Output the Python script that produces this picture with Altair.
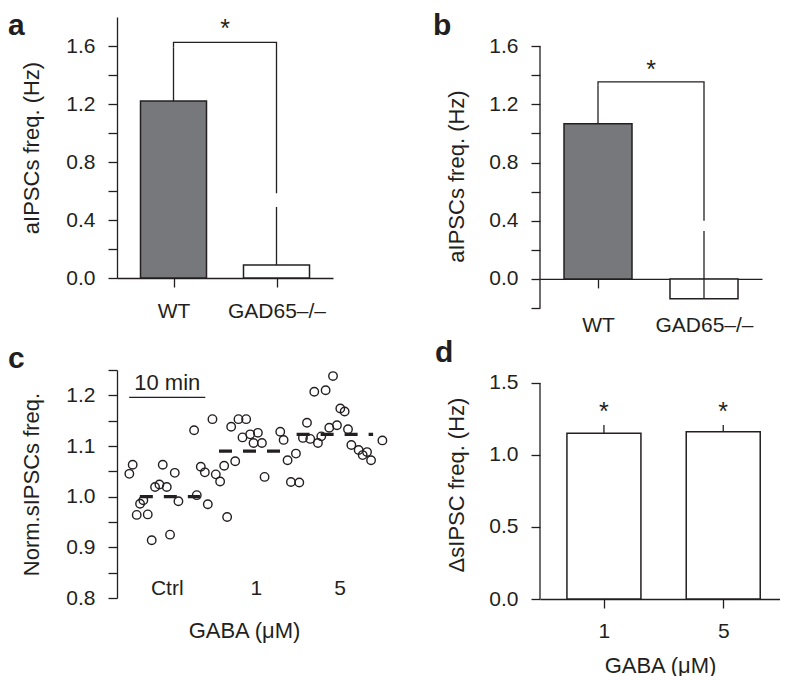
import json
import altair as alt
import pandas as pd

FONT = "Liberation Sans"
INK = "#231f20"
GRAY = "#77787b"

# ---------------- data ----------------
# panel a
a_groups = ["WT", "GAD65–/–"]
a_means = [1.22, 0.09]
a_err_top = [1.59, 0.49]
a_fills = [GRAY, "#ffffff"]
a_bracket_y = 1.625
a_bracket_legs = [1.59, 0.584]
a_star_y = 1.66
a_yticks = [0.0, 0.2, 0.4, 0.6, 0.8, 1.0, 1.2, 1.4, 1.6]
a_label_step = 0.4

# panel b
b_groups = ["WT", "GAD65–/–"]
b_means = [1.066, -0.137]
b_err_top = [1.33, 0.33]
b_fills = [GRAY, "#ffffff"]
b_bracket_y = 1.354
b_bracket_legs = [1.33, 0.40]
b_star_y = 1.382
b_yticks = [-0.2, 0.0, 0.2, 0.4, 0.6, 0.8, 1.0, 1.2, 1.4, 1.6]
b_label_step = 0.4

# panel c
c_minutes = [1.62, 2.06, 2.59, 3.03, 3.46, 4.04, 4.56, 5.00, 5.57, 6.01,
             6.54, 6.97, 7.59, 8.07, 10.13, 10.48, 11.01, 11.54, 11.93, 12.54,
             12.98, 13.55, 14.08, 14.47, 15.00, 15.53, 15.96, 16.49, 16.97, 17.50,
             17.94, 18.51, 19.04, 19.39, 21.45, 21.89, 22.41, 22.85, 23.51, 23.95,
             24.43, 24.96, 25.39, 25.92, 26.40, 26.84, 27.41, 27.89, 28.38, 28.90,
             29.34, 29.91, 30.35, 30.79, 31.75, 32.28, 32.85, 33.38, 34.87]
c_freq = [1.045, 1.063, 0.964, 0.986, 0.993, 0.965, 0.914, 1.019, 1.024, 1.063,
          1.019, 0.925, 1.047, 0.991, 1.131, 1.003, 1.059, 1.048, 0.985, 1.153,
          1.044, 1.030, 1.061, 0.960, 1.138, 1.070, 1.153, 1.117, 1.153, 1.123,
          1.106, 1.126, 1.106, 1.039, 1.128, 1.112, 1.072, 1.029, 1.085, 1.028,
          1.116, 1.146, 1.114, 1.207, 1.106, 1.119, 1.210, 1.136, 1.238, 1.141,
          1.174, 1.168, 1.133, 1.102, 1.092, 1.082, 1.088, 1.072, 1.111]
c_conditions = ["Ctrl", "1", "5"]
c_cond_label_min = [6.6, 18.3, 29.3]
c_cond_label_y = 0.806
c_mean_start = [3.0, 13.4, 23.6]
c_mean_end = [10.9, 21.45, 33.65]
c_mean_value = [1.0, 1.09, 1.123]
c_scalebar = [1.6, 11.6]
c_scalebar_y = 1.196
c_scalebar_text_y = 1.21
c_scalebar_text = "10 min"
c_yticks = [0.8, 0.85, 0.9, 0.95, 1.0, 1.05, 1.1, 1.15, 1.2, 1.25]
c_label_step = 0.1

# panel d
d_groups = ["1", "5"]
d_means = [1.151, 1.162]
d_err_top = [1.208, 1.208]
d_star_y = 1.243
d_yticks = [0.0, 0.5, 1.0, 1.5]

# ---------------- styling helpers ----------------
AX = dict(labelFont=FONT, titleFont=FONT, labelFontSize=21, titleFontSize=22,
          labelColor=INK, titleColor=INK, domainColor=INK, tickColor=INK,
          domainWidth=1.3, tickWidth=1.3, titleFontWeight="normal", grid=False)


def label_expr(names):
    return json.dumps(names, ensure_ascii=False) + "[datum.value]"


def every(step):
    # show a label only on multiples of `step`
    return (f"abs(datum.value / {step} - round(datum.value / {step})) < 0.001 "
            f"? format(datum.value, '.1f') : ''")


def letter(ch, px, py):
    return alt.Chart(pd.DataFrame({"t": [ch]})).mark_text(
        font=FONT, fontSize=30, fontWeight="bold", color=INK,
        align="left", baseline="alphabetic"
    ).encode(text="t:N", x=alt.value(px), y=alt.value(py))


def star_layer(xs, ys, xenc, yenc):
    return alt.Chart(pd.DataFrame({"x": xs, "y": ys, "s": ["*"] * len(xs)})).mark_text(
        font=FONT, fontSize=25, color=INK, baseline="alphabetic"
    ).encode(x=xenc("x:Q"), y=yenc("y:Q"), text="s:N")


# ---------------- panel a ----------------
a_pos = list(range(len(a_groups)))
a_df = pd.DataFrame({"x": a_pos, "mean": a_means, "top": a_err_top,
                     "fill": a_fills, "zero": [0.0] * len(a_pos)})
a_xs = alt.Scale(domain=[-0.5, 1.5], nice=False, zero=False)
a_xa = alt.Axis(values=a_pos, labelExpr=label_expr(a_groups), title=None,
                tickSize=9, labelPadding=13, **AX)
a_ys = alt.Scale(domain=[0, 1.8], nice=False, zero=False)
a_ya = alt.Axis(values=a_yticks, labelExpr=every(a_label_step),
                title="aIPSCs freq. (Hz)", tickSize=9, labelPadding=13,
                titlePadding=22, **AX)
ax_x = lambda f: alt.X(f, scale=a_xs, axis=a_xa)
ax_y = lambda f: alt.Y(f, scale=a_ys, axis=a_ya)

a_bars = alt.Chart(a_df).mark_bar(orient="vertical", width=66, stroke=INK, strokeWidth=1.5).encode(
    x=ax_x("x:Q"), y=ax_y("mean:Q"), y2="zero:Q", fill=alt.Fill("fill:N", scale=None))
a_err = alt.Chart(a_df).mark_rule(color=INK, strokeWidth=1.3).encode(
    x=ax_x("x:Q"), y=ax_y("mean:Q"), y2="top:Q")
a_br_df = pd.DataFrame({"x": [a_pos[0], a_pos[0], a_pos[1], a_pos[1]],
                        "y": [a_bracket_legs[0], a_bracket_y, a_bracket_y, a_bracket_legs[1]],
                        "o": [0, 1, 2, 3]})
a_br = alt.Chart(a_br_df).mark_line(color=INK, strokeWidth=1.3).encode(
    x=ax_x("x:Q"), y=ax_y("y:Q"), order="o:Q")
a_star = star_layer([sum(a_pos) / 2], [a_star_y], ax_x, ax_y)
panel_a = alt.layer(a_bars, a_err, a_br, a_star, letter("a", -109, 18)).properties(
    width=216, height=261)

# ---------------- panel b ----------------
b_pos = list(range(len(b_groups)))
b_df = pd.DataFrame({"x": b_pos, "mean": b_means, "top": b_err_top,
                     "fill": b_fills, "zero": [0.0] * len(b_pos)})
B_H = 291
b_dom = [-0.2, 1.8]
b_zero_offset = -B_H * (0 - b_dom[0]) / (b_dom[1] - b_dom[0])
b_xs = alt.Scale(domain=[-0.5, 1.5], nice=False, zero=False)
b_xa = alt.Axis(values=b_pos, labelExpr=label_expr(b_groups), title=None,
                tickSize=9, labelPadding=27, offset=b_zero_offset, **AX)
b_ys = alt.Scale(domain=b_dom, nice=False, zero=False)
b_ya = alt.Axis(values=b_yticks, labelExpr=every(b_label_step),
                title="aIPSCs freq. (Hz)", tickSize=9, labelPadding=13, domain=False,
                titlePadding=20, titleY=159, **AX)
bx_x = lambda f: alt.X(f, scale=b_xs, axis=b_xa)
bx_y = lambda f: alt.Y(f, scale=b_ys, axis=b_ya)

b_bars = alt.Chart(b_df).mark_bar(orient="vertical", width=68, stroke=INK, strokeWidth=1.5).encode(
    x=bx_x("x:Q"), y=bx_y("mean:Q"), y2="zero:Q", fill=alt.Fill("fill:N", scale=None))
b_err = alt.Chart(b_df).mark_rule(color=INK, strokeWidth=1.3).encode(
    x=bx_x("x:Q"), y=bx_y("mean:Q"), y2="top:Q")
b_br_df = pd.DataFrame({"x": [b_pos[0], b_pos[0], b_pos[1], b_pos[1]],
                        "y": [b_bracket_legs[0], b_bracket_y, b_bracket_y, b_bracket_legs[1]],
                        "o": [0, 1, 2, 3]})
b_br = alt.Chart(b_br_df).mark_line(color=INK, strokeWidth=1.3).encode(
    x=bx_x("x:Q"), y=bx_y("y:Q"), order="o:Q")
b_axis_line = alt.Chart(pd.DataFrame({"y0": [min(b_yticks)], "y1": [max(b_yticks)]})).mark_rule(
    color=INK, strokeWidth=1.3).encode(x=alt.value(0), y=bx_y("y0:Q"), y2="y1:Q")
b_star = star_layer([sum(b_pos) / 2], [b_star_y], bx_x, bx_y)
panel_b = alt.layer(b_bars, b_err, b_br, b_axis_line, b_star, letter("b", -107, 18)).properties(
    width=222, height=B_H)

# ---------------- panel c ----------------
c_df = pd.DataFrame({"t": c_minutes, "f": c_freq})
c_xs = alt.Scale(domain=[0, 36], nice=False, zero=False)
c_xa = alt.Axis(title="GABA (μM)", domain=False, ticks=False, labels=False,
                titlePadding=22, titleX=127, **AX)
c_ys = alt.Scale(domain=[0.8, 1.25], nice=False, zero=False)
c_ya = alt.Axis(values=c_yticks, labelExpr=every(c_label_step),
                title="Norm.sIPSCs freq.", tickSize=9, labelPadding=13,
                titlePadding=22, **AX)
cx_x = lambda f: alt.X(f, scale=c_xs, axis=c_xa)
cx_y = lambda f: alt.Y(f, scale=c_ys, axis=c_ya)

c_pts = alt.Chart(c_df).mark_point(shape="circle", filled=False, color=INK,
                                    strokeWidth=1.4, size=72, opacity=1).encode(
    x=cx_x("t:Q"), y=cx_y("f:Q"))
c_mean_df = pd.DataFrame({"s": c_mean_start, "e": c_mean_end, "v": c_mean_value})
c_means = alt.Chart(c_mean_df).mark_rule(color=INK, strokeWidth=3.2, strokeDash=[13, 11]).encode(
    x=cx_x("s:Q"), x2="e:Q", y=cx_y("v:Q"))
c_lab_df = pd.DataFrame({"x": c_cond_label_min, "y": [c_cond_label_y] * 3, "t": c_conditions})
c_labs = alt.Chart(c_lab_df).mark_text(font=FONT, fontSize=21, color=INK, baseline="alphabetic").encode(
    x=cx_x("x:Q"), y=cx_y("y:Q"), text="t:N")
c_sb_df = pd.DataFrame({"s": [c_scalebar[0]], "e": [c_scalebar[1]], "y": [c_scalebar_y],
                        "tx": [sum(c_scalebar) / 2], "ty": [c_scalebar_text_y], "t": [c_scalebar_text]})
c_sb = alt.Chart(c_sb_df).mark_rule(color=INK, strokeWidth=1.3).encode(
    x=cx_x("s:Q"), x2="e:Q", y=cx_y("y:Q"))
c_sbt = alt.Chart(c_sb_df).mark_text(font=FONT, fontSize=22, color=INK, baseline="alphabetic").encode(
    x=cx_x("tx:Q"), y=cx_y("ty:Q"), text="t:N")
panel_c = alt.layer(c_pts, c_means, c_labs, c_sb, c_sbt, letter("c", -109, -2)).properties(
    width=274, height=228)

# ---------------- panel d ----------------
d_pos = list(range(len(d_groups)))
d_df = pd.DataFrame({"x": d_pos, "mean": d_means, "top": d_err_top, "zero": [0.0] * len(d_pos)})
d_xs = alt.Scale(domain=[-0.494, 1.434], nice=False, zero=False)
d_xa = alt.Axis(values=d_pos, labelExpr=label_expr(d_groups), title="GABA (μM)",
                tickSize=9, labelPadding=12, titlePadding=14, **AX)
d_ys = alt.Scale(domain=[0, 1.59], nice=False, zero=False)
d_ya = alt.Axis(values=d_yticks, format=".1f", title="ΔsIPSC freq. (Hz)",
                tickSize=9, labelPadding=13, domain=False, titlePadding=20, **AX)
dx_x = lambda f: alt.X(f, scale=d_xs, axis=d_xa)
dx_y = lambda f: alt.Y(f, scale=d_ys, axis=d_ya)

d_bars = alt.Chart(d_df).mark_bar(orient="vertical", width=74, stroke=INK, strokeWidth=1.5,
                                  fill="#ffffff").encode(
    x=dx_x("x:Q"), y=dx_y("mean:Q"), y2="zero:Q")
d_err = alt.Chart(d_df).mark_rule(color=INK, strokeWidth=1.3).encode(
    x=dx_x("x:Q"), y=dx_y("mean:Q"), y2="top:Q")
d_axis_line = alt.Chart(pd.DataFrame({"y0": [min(d_yticks)], "y1": [max(d_yticks)]})).mark_rule(
    color=INK, strokeWidth=1.3).encode(x=alt.value(0), y=dx_y("y0:Q"), y2="y1:Q")
d_star = star_layer(d_pos, [d_star_y] * len(d_pos), dx_x, dx_y)
panel_d = alt.layer(d_err, d_bars, d_axis_line, d_star, letter("d", -105, -8)).properties(
    width=240, height=229)

chart = alt.concat(
    panel_a, panel_b, panel_c, panel_d,
    columns=2, spacing={"row": 62, "column": 149}, bounds="flush", align="all",
).properties(
    padding={"left": 0, "top": 3, "right": 0, "bottom": 0}
).configure(background="#ffffff", view=alt.ViewConfig(stroke=None))

chart.save("out.html", embed_options={"renderer": "svg", "actions": False})
